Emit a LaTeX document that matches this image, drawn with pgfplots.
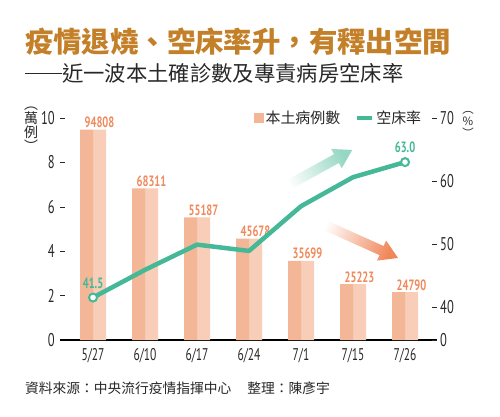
\documentclass[border=0pt]{standalone}
\usepackage{fontspec}
\usepackage{pgfplots}
\pgfplotsset{compat=1.18}
\newfontfamily\cjk{Noto Sans CJK TC}
\newfontfamily\numfont[FakeStretch=0.68]{PT Sans}
\newfontfamily\barfont[FakeStretch=0.7]{PT Sans Bold}
\definecolor{ttl}{RGB}{196,128,40}
\definecolor{teal1}{RGB}{69,184,151}
\definecolor{barD}{RGB}{243,183,152}
\definecolor{barL}{RGB}{248,206,184}
\definecolor{lblO}{RGB}{240,138,92}
\definecolor{txt}{RGB}{40,40,40}
\definecolor{arrG}{RGB}{150,215,195}
\definecolor{arrO}{RGB}{240,135,90}
\begin{document}
\begin{tikzpicture}[x=1bp,y=1bp]
\path[fill=white] (0,0) rectangle (500,416);
% titles
\node[anchor=west, inner sep=0, text=ttl, font=\cjk\bfseries\fontsize{28.5}{30}\selectfont] at (25,374) {疫情退燒、空床率升，有釋出空間};
\node[anchor=west, inner sep=0, text=txt, font=\cjk\fontsize{21.4}{23}\selectfont] at (25,343) {\rule[0.34em]{37bp}{1.3bp}近一波本土確診數及專責病房空床率};
\node[anchor=west, inner sep=0, text=txt, font=\cjk\fontsize{13.8}{15}\selectfont] at (25,28) {資料來源：中央流行疫情指揮中心\hspace{16bp}整理：陳彥宇};
% unit labels
\node[font=\cjk\fontsize{14}{14}\selectfont, text=txt, align=center, inner sep=0] at (31,287) {︵\\萬\\例\\︶};
\node[font=\cjk\fontsize{11.5}{12}\selectfont, text=txt, align=center, inner sep=0] at (468,292) {︵\\\%\\︶};
% decorative arrows
\shade[bottom color=white, top color=arrG, shading angle=-61.2]
  (285.41,223.62) -- (338.86,253.01) -- (341.75,247.75) -- (352.23,266.06) -- (331.15,267.03) -- (334.04,261.77) -- (280.59,232.38) -- cycle;
\shade[bottom color=white, top color=arrO, shading angle=-114.2]
  (315.95,189.44) -- (379.52,160.86) -- (377.06,155.39) -- (397.99,158.04) -- (386.08,175.45) -- (383.62,169.98) -- (320.05,198.56) -- cycle;
% bars
\begin{axis}[
  at={(60bp,76bp)}, anchor=south west, scale only axis,
  width=377bp, height=222bp,
  xmin=-0.635, xmax=6.615, ymin=0, ymax=10,
  axis x line*=bottom, axis y line*=left,
  x axis line style={-, black, line width=1.5bp},
  y axis line style={draw=none},
  xtick={0,...,6}, xticklabels={5/27,6/10,6/17,6/24,7/1,7/15,7/26},
  xtick style={draw=none},
  ytick={0,2,...,10}, yticklabels={0,2,4,6,8,10},
  ytick style={txt, line width=0.6bp},
  tick align=inside, major tick length=5bp,
  xticklabel style={font=\numfont\fontsize{17}{17}\selectfont, text=txt, inner sep=0pt, yshift=-8bp},
  yticklabel style={font=\numfont\fontsize{18.5}{18.5}\selectfont, text=txt, inner sep=0pt, xshift=-5bp},
  clip=false,
]
\addplot[ybar, bar width=13bp, bar shift=6.5bp, fill=barL, draw=none]
coordinates {(0,9.4808) (1,6.8311) (2,5.5187) (3,4.5678) (4,3.5699) (5,2.5223) (6,2.16)};
\addplot[ybar, bar width=13bp, bar shift=-6.5bp, fill=barD, draw=none,
  point meta=explicit symbolic, nodes near coords,
  nodes near coords style={font=\barfont\fontsize{15}{16}\selectfont, text=lblO, xshift=6.5bp, inner sep=1.5bp, anchor=south}]
coordinates {(0,9.4808)[94808] (1,6.8311)[68311] (2,5.5187)[55187] (3,4.5678)[45678] (4,3.5699)[35699] (5,2.5223)[25223] (6,2.16)[24790]};
\end{axis}
% bed vacancy rate
\begin{axis}[
  at={(60bp,76bp)}, anchor=south west, scale only axis,
  width=377bp, height=222bp,
  xmin=-0.635, xmax=6.615, ymin=34.76, ymax=70,
  axis x line=none, axis y line*=right,
  y axis line style={draw=none},
  ytick={34.76,40,50,60,70}, yticklabels={0,40,50,60,70},
  ytick style={txt, line width=0.6bp},
  tick align=inside, major tick length=5bp,
  yticklabel style={font=\numfont\fontsize{18.5}{18.5}\selectfont, text=txt, inner sep=0pt, xshift=3bp},
  clip=false,
  legend style={at={(0.5146,1)}, anchor=west, draw=none, fill=none, legend columns=2,
    font=\cjk\fontsize{15}{15}\selectfont, text=txt, inner sep=0pt,
    /tikz/every even column/.append style={column sep=13bp}},
]
\addlegendimage{legend image code/.code={\fill[barD] (0bp,-4.5bp) rectangle (9bp,4.5bp);}}
\addplot[teal1, line width=4.5bp, line join=round, mark=none,
  legend image code/.code={\draw[teal1, line width=4bp] (0bp,0bp) -- (15bp,0bp);}]
coordinates {(0,41.5) (1,45.9) (2,49.9) (3,48.9) (4,56.0) (5,60.6) (6,63.0)};
\addplot[only marks, mark=*, mark size=4bp, mark options={fill=white, draw=teal1, line width=2bp},
  point meta=explicit symbolic, nodes near coords,
  nodes near coords style={font=\barfont\fontsize{15}{16}\selectfont, text=teal1, anchor=south, inner sep=0pt, yshift=8bp}]
coordinates {(0,41.5)[41.5] (6,63.0)[63.0]};
\legend{本土病例數,空床率}
\end{axis}
\end{tikzpicture}
\end{document}
